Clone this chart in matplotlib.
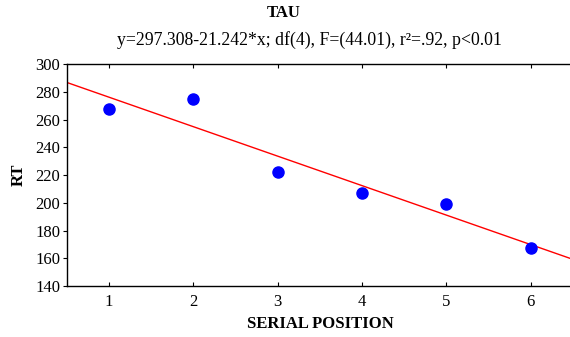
import matplotlib
matplotlib.use('Agg')
import matplotlib.pyplot as plt
import numpy as np

# data
serial_pos = [1, 2, 3, 4, 5, 6]
rt = [267.6, 274.8, 222.2, 207.0, 199.1, 167.4]
intercept = 297.308
slope = -21.242
xticks = [1, 2, 3, 4, 5, 6]
yticks = [140, 160, 180, 200, 220, 240, 260, 280, 300]

plt.rcParams['font.family'] = ['Liberation Serif', 'DejaVu Serif']

fig = plt.figure(figsize=(5.70, 3.37), dpi=100)
ax = fig.add_axes([0.1175, 0.1513, 0.8875, 0.6587])

xfit = np.array([0.5, 6.5])
ax.plot(xfit, intercept + slope * xfit, color='red', lw=1.0)
ax.plot(serial_pos, rt, 'o', color='blue', markersize=8, zorder=3)

ax.set_xlim(0.5, 6.5)
ax.set_ylim(140, 300)
ax.set_xticks(xticks)
ax.set_yticks(yticks)
ax.spines['right'].set_visible(False)
for s in ['left', 'bottom', 'top']:
    ax.spines[s].set_linewidth(1.0)
ax.tick_params(axis='x', direction='in', top=True, length=3, labelsize=12, pad=6)
ax.tick_params(axis='y', direction='out', length=3, labelsize=12, pad=2)

ax.set_xlabel('SERIAL POSITION', fontweight='bold', fontsize=12, labelpad=4)
ax.set_ylabel('RT', fontweight='bold', fontsize=12, labelpad=6)

fig.text(0.498, 0.962, 'TAU', ha='center', va='center', fontweight='bold', fontsize=12)
fig.text(0.542, 0.88, 'y=297.308-21.242*x; df(4), F=(44.01), r\u00b2=.92, p<0.01',
         ha='center', va='center', fontsize=12.8)

fig.savefig('out.png', dpi=100)
